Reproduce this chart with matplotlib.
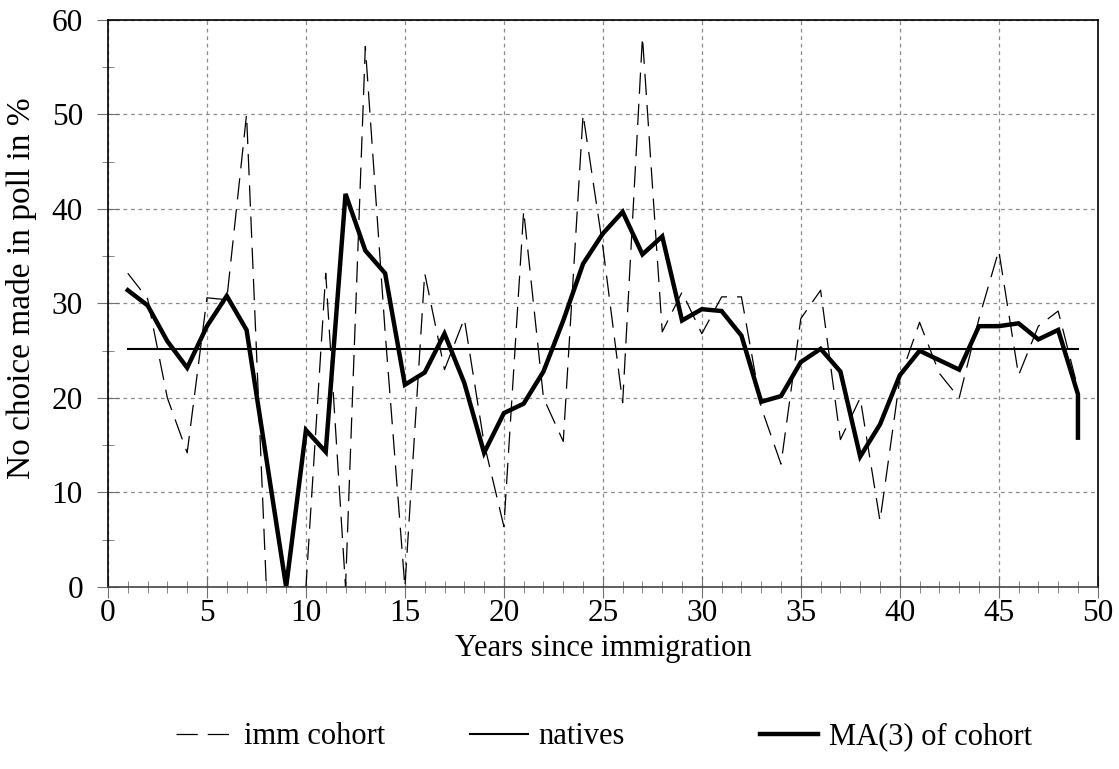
import numpy as np
import matplotlib.pyplot as plt
from matplotlib.ticker import MultipleLocator

plt.rcParams['font.family'] = ['Liberation Serif', 'DejaVu Serif']

years = list(range(1, 50))
cohort = [33.2, 30.5, 20.0, 14.2, 30.6, 30.4, 50.0, 0.0, 0.0, 0.0,
          33.2, 0.0, 57.2, 27.0, 0.0, 33.2, 23.0, 28.4, 15.2, 6.4,
          39.8, 20.0, 15.4, 50.0, 36.0, 19.5, 58.2, 27.0, 31.2, 26.8,
          30.7, 30.7, 19.0, 13.0, 28.4, 31.4, 15.6, 20.0, 7.0, 22.0,
          28.0, 22.6, 20.0, 28.4, 35.6, 22.4, 27.6, 29.2, 21.0]
natives_level = 25.2
ma_years = years + [49]
ma3 = [31.4, 29.8, 26.0, 23.2, 27.6, 30.8, 27.2, 13.6, 0.0, 16.6,
       14.3, 41.6, 35.6, 33.2, 21.4, 22.7, 26.8, 21.6, 14.2, 18.4,
       19.4, 22.8, 28.2, 34.2, 37.4, 39.7, 35.2, 37.1, 28.2, 29.4,
       29.2, 26.6, 19.6, 20.2, 23.8, 25.2, 22.8, 13.8, 17.2, 22.4,
       25.0, 24.0, 23.0, 27.6, 27.6, 27.9, 26.2, 27.2, 20.4, 15.8]

fig = plt.figure(figsize=(11.19, 7.69), dpi=100)
ax = fig.add_axes([0.0965, 0.2367, 0.8845, 0.7373])

l1, = ax.plot(years, cohort, color='black', lw=0.9, dashes=(17, 8), label='imm cohort')
l2, = ax.plot([years[0], years[-1]], [natives_level, natives_level], color='black', lw=1.5, label='natives')
l3, = ax.plot(ma_years, ma3, color='black', lw=3.2, label='MA(3) of cohort', solid_joinstyle='miter')

ax.set_xlim(0, 50)
ax.set_ylim(0, 60)
ax.xaxis.set_major_locator(MultipleLocator(5))
ax.xaxis.set_minor_locator(MultipleLocator(1))
ax.yaxis.set_major_locator(MultipleLocator(10))
ax.yaxis.set_minor_locator(MultipleLocator(5))
ax.grid(True, which='major', color='#8c8c8c', lw=0.9, dashes=(3, 3))
ax.set_axisbelow(True)
ax.tick_params(which='both', direction='inout', color='#707070', labelsize=22.5)
ax.tick_params(which='major', length=16)
ax.tick_params(which='minor', length=9)
ax.tick_params(axis='x', which='major', pad=1)
ax.tick_params(axis='y', which='major', pad=10)
for s in ax.spines.values():
    s.set_linewidth(1.2)
ax.spines['bottom'].set_color('#444444')

ax.set_xlabel('Years since immigration', fontsize=22, labelpad=4)
ax.set_ylabel('No choice made in poll in %', fontsize=24)
ax.yaxis.set_label_coords(-0.072, 0.527)

# three legend entries placed separately, as in the source
legend_x = [0.157, 0.42, 0.679]
for h, lx in zip([l1, l2, l3], legend_x):
    lg = fig.legend(handles=[h], loc='center left', bbox_to_anchor=(lx, 0.042),
                    frameon=False, fontsize=22, handlelength=1.9, handletextpad=0.35,
                    borderpad=0, borderaxespad=0)

fig.savefig('out.png', dpi=100)
